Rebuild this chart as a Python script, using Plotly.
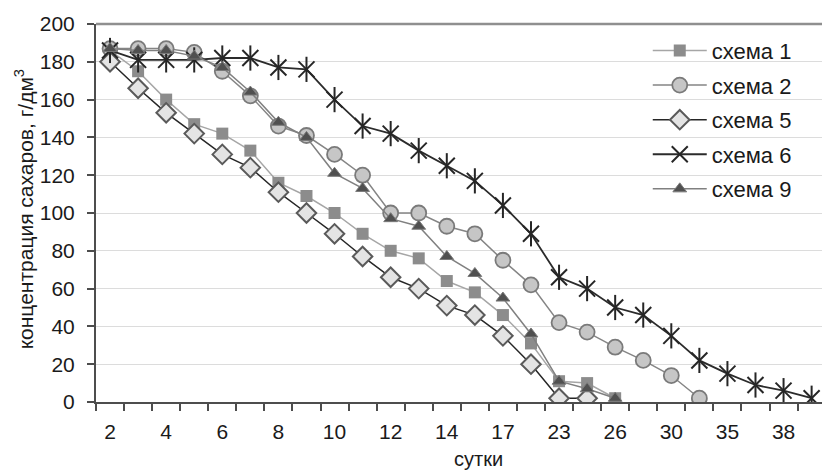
import plotly.graph_objects as go

# categories (days) — labels shown on every other category
days = ["2", "3", "4", "5", "6", "7", "8", "9", "10", "11", "12", "13", "14",
        "15", "17", "20", "23", "24", "26", "28", "30", "32", "35", "36", "38", "39"]

s1 = [186, 175, 160, 147, 142, 133, 116, 109, 100, 89, 80, 76, 64, 58, 46, 31, 11, 10, 2]
s2 = [187, 187, 187, 185, 175, 162, 146, 141, 131, 120, 100, 100, 93, 89, 75, 62, 42, 37, 29, 22, 14, 2]
s5 = [180, 166, 153, 142, 131, 124, 111, 100, 89, 77, 66, 60, 51, 46, 35, 20, 2, 2]
s6 = [186, 181, 181, 181, 182, 182, 177, 176, 160, 146, 142, 133, 125, 117, 104, 89, 66, 60, 50, 46, 35, 22, 15, 9, 6, 2]
s9 = [187, 186, 186, 183, 177, 164, 148, 140, 121, 113, 97, 93, 77, 68, 55, 36, 11, 7, 2]

names = ["схема 1", "схема 2", "схема 5", "схема 6", "схема 9"]

idx = list(range(len(days)))
FONT = "Liberation Sans, Arial, sans-serif"

fig = go.Figure()

def add(vals, name, symbol, size, fill, mline, mlw, lcolor, lw):
    fig.add_trace(go.Scatter(
        x=idx[:len(vals)], y=vals, name=name, mode="lines+markers",
        line=dict(color=lcolor, width=lw),
        marker=dict(symbol=symbol, size=size, color=fill,
                    line=dict(color=mline, width=mlw)),
        legendgroup=name,
    ))

add(s1, names[0], "square", 12, "#8c8c8c", "#8c8c8c", 0, "#a6a6a6", 1.5)
add(s2, names[1], "circle", 15, "#c6c6c6", "#7a7a7a", 1.8, "#858585", 1.5)
add(s5, names[2], "diamond", 15, "#e4e4e4", "#5a5a5a", 2, "#262626", 1.5)
add(s6, names[3], "x-thin-open", 16, "#262626", "#262626", 2, "#2b2b2b", 1.8)
# vertical stroke of the star marker
fig.add_trace(go.Scatter(
    x=idx[:len(s6)], y=s6, mode="markers", showlegend=False, hoverinfo="skip",
    marker=dict(symbol="line-ns-open", size=18, color="#262626",
                line=dict(color="#262626", width=2)),
    legendgroup=names[3],
))
add(s9, names[4], "triangle-up", 12, "#505050", "#7a7a7a", 1, "#808080", 1.5)

fig.update_layout(
    width=822, height=472,
    margin=dict(l=96, r=0, t=24, b=70),
    paper_bgcolor="white", plot_bgcolor="white",
    font=dict(family=FONT, size=21, color="#1a1a1a"),
    legend=dict(x=0.760, y=0.985, xanchor="left", yanchor="top",
                font=dict(family=FONT, size=22, color="#1a1a1a"),
                bgcolor="rgba(255,255,255,0)", tracegroupgap=3,
                itemwidth=54),
    showlegend=True,
)

fig.update_xaxes(
    range=[-0.5, len(days) - 0.63],
    tickmode="array",
    tickvals=idx[::2],
    ticktext=days[::2],
    ticks="",
    ticklabelstandoff=10,
    showgrid=False, zeroline=False,
    showline=True, linecolor="#4d4d4d", linewidth=2,
    tickfont=dict(family=FONT, size=21, color="#1a1a1a"),
    minor=dict(tickmode="array", tickvals=[i - 0.5 for i in range(len(days) + 1)],
               ticks="outside", ticklen=7, tickcolor="#4d4d4d", tickwidth=1.5,
               showgrid=False),
)

fig.update_yaxes(
    range=[0, 200], dtick=20, tick0=0,
    ticks="outside", ticklen=7, tickcolor="#4d4d4d", tickwidth=1.5,
    ticklabelstandoff=8,
    showgrid=True, gridcolor="#dcdcdc", gridwidth=1.2,
    zeroline=False,
    showline=True, linecolor="#4d4d4d", linewidth=2,
    tickfont=dict(family=FONT, size=21, color="#1a1a1a"),
)

# top border of plot area
fig.add_shape(type="line", xref="paper", yref="paper", x0=0, x1=1, y0=1, y1=1,
              line=dict(color="#8f8f8f", width=2.5))

fig.add_annotation(text="концентрация сахаров, г/дм<sup>3</sup>", textangle=-90,
                   xref="paper", yref="paper", x=-0.099, y=0.51,
                   xanchor="center", yanchor="middle", showarrow=False,
                   font=dict(family=FONT, size=21, color="#1a1a1a"))
fig.add_annotation(text="сутки", xref="paper", yref="paper", x=0.527, y=-0.150,
                   xanchor="center", yanchor="middle", showarrow=False,
                   font=dict(family=FONT, size=20, color="#1a1a1a"))

fig.write_html("out.html")
